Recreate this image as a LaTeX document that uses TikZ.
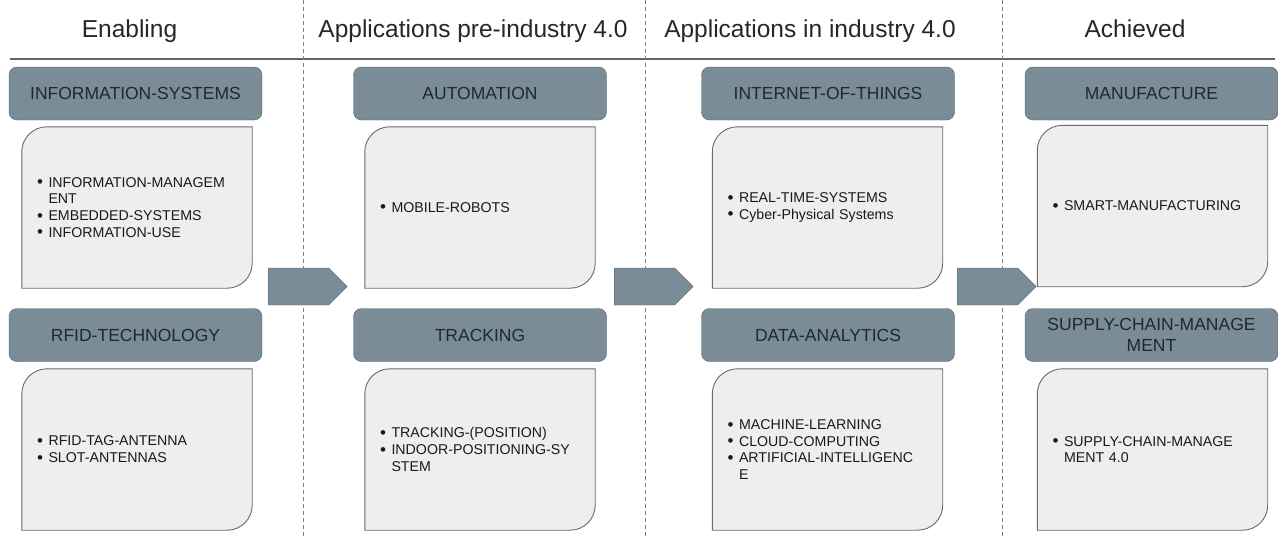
\documentclass[tikz,border=0pt]{standalone}
\usepackage{fontspec}
\setmainfont{Liberation Sans}
\usetikzlibrary{shapes.symbols,calc,backgrounds}
\definecolor{slate}{RGB}{121,140,151}
\definecolor{slateline}{RGB}{88,98,104}
\definecolor{panel}{RGB}{238,238,238}
\definecolor{panelline}{RGB}{105,105,105}
\definecolor{ink}{RGB}{34,40,44}
\tikzset{
  title/.style={font=\fontsize{24.5}{28}\selectfont,text=ink,anchor=base},
  head/.style={draw=slateline,fill=slate,rounded corners=8,minimum width=253,minimum height=53,
    inner sep=0,align=center,font=\fontsize{17.5}{21}\selectfont,text=ink},
  body/.style={minimum width=230,minimum height=161,text width=200,inner sep=0,align=left,
    font=\fontsize{14.2}{16.7}\selectfont,text=black!90},
  flow/.style={signal,signal to=east,draw=slateline,fill=slate,minimum width=79,minimum height=37,
    inner sep=0,anchor=west},
  sepline/.style={gray,line width=1,dash pattern=on 4 off 3},
}
\newcommand\itm[1]{\makebox[11.5pt][l]{\raisebox{-0.6pt}{\fontsize{17}{17}\selectfont\textbullet}}#1}
\newcommand\cont[1]{\hspace*{11.5pt}#1}
% panel with two rounded corners (top left, bottom right)
\newcommand\panelshape[1]{%
  \draw[fill=panel,draw=panelline,line width=0.9] (#1.south west) -- ($(#1.north west)+(0,25)$)
    arc[start angle=180,end angle=270,radius=25] -- (#1.north east) -- ($(#1.south east)+(0,-25)$)
    arc[start angle=0,end angle=90,radius=25] -- cycle;}

\begin{document}
\begin{tikzpicture}[x=1pt,y=-1pt]
  \useasboundingbox (0,0) rectangle (1278,538);
  % column titles
  \node[title] (tEnab) at (129.5,37) {Enabling};
  \node[title] (tPre)  at (473,37) {Applications pre-industry 4.0};
  \node[title] (tIn)   at (810,37) {Applications in industry 4.0};
  \node[title] (tAch)  at (1135,37) {Achieved};
  \draw[gray!80!black,line width=1.1] (10,59) -- (1275,59);
  \foreach \x in {303,645,1002} \draw[sepline] (\x,0) -- (\x,538);

  % headers
  \node[head] (hInfo)  at (135.5,93.5) {INFORMATION-SYSTEMS};
  \node[head] (hRfid)  at (135.5,335) {RFID-TECHNOLOGY};
  \node[head] (hAuto)  at (480,93.5) {AUTOMATION};
  \node[head] (hTrack) at (480,335) {TRACKING};
  \node[head] (hIot)   at (828,93.5) {INTERNET-OF-THINGS};
  \node[head] (hData)  at (828,335) {DATA-ANALYTICS};
  \node[head] (hManu)  at (1151.5,93.5) {MANUFACTURE};
  \node[head] (hScm)   at (1151.5,335) {SUPPLY-CHAIN-MANAGE\\MENT};

  % panels
  \node[body] (bInfo)  at (137,207.5) {\itm{INFORMATION-MANAGEM}\\\cont{ENT}\\\itm{EMBEDDED-SYSTEMS}\\\itm{INFORMATION-USE}};
  \node[body] (bRfid)  at (137,449.5) {\itm{RFID-TAG-ANTENNA}\\\itm{SLOT-ANTENNAS}};
  \node[body] (bAuto)  at (480,207.5) {\itm{MOBILE-ROBOTS}};
  \node[body] (bTrack) at (480,449.5) {\itm{TRACKING-(POSITION)}\\\itm{INDOOR-POSITIONING-SY}\\\cont{STEM}};
  \node[body] (bIot)   at (827.5,207.5) {\itm{REAL-TIME-SYSTEMS}\\\itm{Cyber-Physical Systems}};
  \node[body] (bData)  at (827.5,449.5) {\itm{MACHINE-LEARNING}\\\itm{CLOUD-COMPUTING}\\\itm{ARTIFICIAL-INTELLIGENC}\\\cont{E}};
  \node[body] (bManu)  at (1152.5,206) {\itm{SMART-MANUFACTURING}};
  \node[body] (bScm)   at (1152.5,449.5) {\itm{SUPPLY-CHAIN-MANAGE}\\\cont{MENT 4.0}};

  % flow arrows
  \node[flow] (a1) at (268,286.5) {};
  \node[flow] (a2) at (614,286.5) {};
  \node[flow] (a3) at (957,286.5) {};

  \begin{scope}[on background layer]
    \fill[white] (0,0) rectangle (1278,538);
    \foreach \b in {bInfo,bRfid,bAuto,bTrack,bIot,bData,bManu,bScm} {\panelshape{\b}}
  \end{scope}
\end{tikzpicture}
\end{document}
